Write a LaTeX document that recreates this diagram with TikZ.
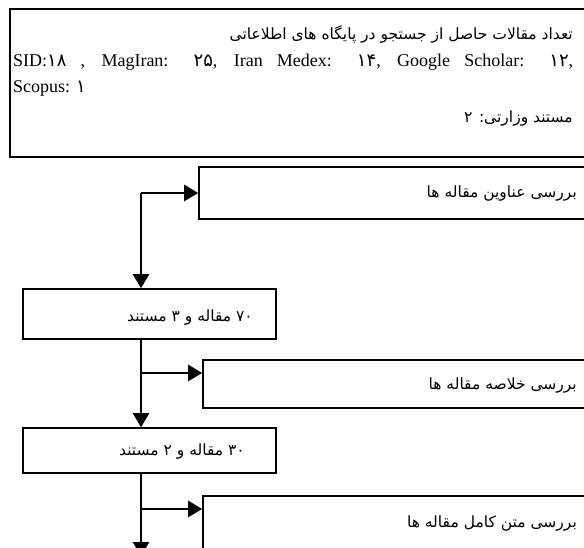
\documentclass[tikz,border=0pt]{standalone}
\usepackage{fontspec}
\setmainfont{Liberation Serif}
\newfontfamily\arabicfont[Script=Arabic]{DejaVu Sans}
\TeXXeTstate=1
\usetikzlibrary{arrows.meta,calc,positioning}

\begin{document}
\begin{tikzpicture}[x=1pt,y=-1pt]
            \tikzstyle{box} = [draw,line width=1.6pt,rectangle,inner sep=0pt]
            \tikzstyle{edge} = [-{Triangle[length=14pt,width=16pt]},line width=2.6pt]
            \tikzstyle{fa} = [inner sep=0pt,font=\arabicfont\fontsize{15.5}{18}\selectfont]
            \tikzstyle{en} = [inner sep=0pt,font=\fontsize{18}{21}\selectfont]

            \clip (0,0) rectangle (584,547);

            % boxes
            \node[box,minimum width=590pt,minimum height=148pt] (search) at (305,83) {};
            \node[box,minimum width=401pt,minimum height=52pt] (titles) at (399.5,193) {};
            \node[box,minimum width=253pt,minimum height=50pt] (n70) at (149.5,314) {};
            \node[box,minimum width=397pt,minimum height=48pt] (abstracts) at (401.5,384) {};
            \node[box,minimum width=253pt,minimum height=45pt] (n30) at (149.5,450.5) {};
            \node[box,minimum width=397pt,minimum height=64pt] (fulltext) at (401.5,528) {};

            % texts
            \node[fa,anchor=east] (search-head) at (573,34) {\beginR تعداد مقالات حاصل از جستجو در پایگاه های اطلاعاتی\endR};
            \node[en,anchor=west] (search-list) at (13,62) {\makebox[560pt][s]{SID:{\arabicfont ۱۸} , MagIran: {\arabicfont ۲۵}, Iran Medex: {\arabicfont ۱۴}, Google Scholar: {\arabicfont ۱۲},}};
            \node[en,anchor=west] (search-scopus) at (13,88) {Scopus: {\arabicfont ۱}};
            \node[fa,anchor=east] (search-min) at (573,118) {\beginR مستند وزارتی: ۲\endR};
            \node[fa,anchor=east] (titles-text) at (577,193) {\beginR بررسی عناوین مقاله ها\endR};
            \node[fa,anchor=east] (n70-text) at (253,317) {\beginR\beginL ۷۰\endL{} مقاله و ۳ مستند\endR};
            \node[fa,anchor=east] (abstracts-text) at (577,385) {\beginR بررسی خلاصه مقاله ها\endR};
            \node[fa,anchor=east] (n30-text) at (245,451) {\beginR\beginL ۳۰\endL{} مقاله و ۲ مستند\endR};
            \node[fa,anchor=east] (fulltext-text) at (577,523) {\beginR بررسی متن کامل مقاله ها\endR};

            % connectors
            \coordinate (j1) at (141,193);
            \coordinate (j2) at (141,373);
            \coordinate (j3) at (141,509);
            \coordinate (end) at (141,556);
            \draw[edge] (j1) -- (titles.west |- j1);
            \draw[edge] (j1) -- (j1 |- n70.north);
            \draw[edge] (j1 |- n70.south) -- (j1 |- n30.north);
            \draw[edge] (j2) -- (abstracts.west |- j2);
            \draw[edge] (j1 |- n30.south) -- (end);
            \draw[edge] (j3) -- (fulltext.west |- j3);
        \end{tikzpicture}
\end{document}
